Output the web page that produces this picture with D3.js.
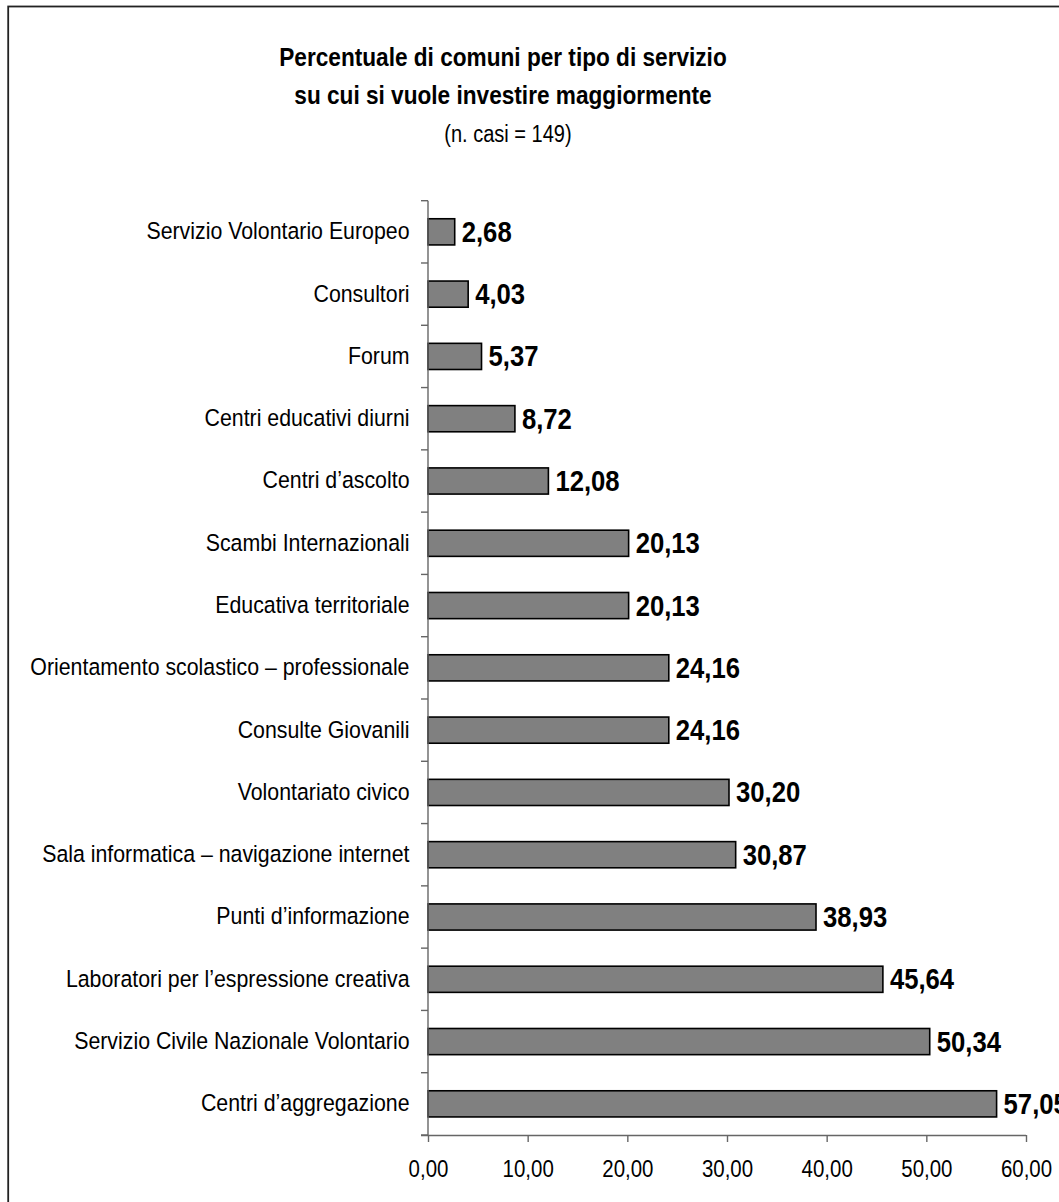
<!DOCTYPE html>
<html>
<head>
<meta charset="utf-8">
<script src="https://cdn.jsdelivr.net/npm/d3@7"></script>
<style>
  html, body { margin: 0; padding: 0; background: #fff; overflow: hidden; }
  svg { display: block; }
  text { font-family: "Liberation Sans", Arial, sans-serif; fill: #000; }
</style>
</head>
<body>
<svg id="chart" width="1059" height="1202"></svg>
<script>
// Servizi su cui i comuni vogliono investire (percentuali)
const categories = [
  "Servizio Volontario Europeo",
  "Consultori",
  "Forum",
  "Centri educativi diurni",
  "Centri d\u2019ascolto",
  "Scambi Internazionali",
  "Educativa territoriale",
  "Orientamento scolastico \u2013 professionale",
  "Consulte Giovanili",
  "Volontariato civico",
  "Sala informatica \u2013 navigazione internet",
  "Punti d\u2019informazione",
  "Laboratori per l\u2019espressione creativa",
  "Servizio Civile Nazionale Volontario",
  "Centri d\u2019aggregazione"
];
const values = [2.68, 4.03, 5.37, 8.72, 12.08, 20.13, 20.13, 24.16, 24.16, 30.20, 30.87, 38.93, 45.64, 50.34, 57.05];
const xTicks = [0, 10, 20, 30, 40, 50, 60];
const titleLines = [
  "Percentuale di comuni per tipo di servizio",
  "su cui si vuole investire maggiormente"
];
const subtitle = "(n. casi = 149)";

const it = d3.formatLocale({ decimal: ",", thousands: ".", grouping: [3], currency: ["", " \u20ac"] });
const fmt = it.format(".2f");

const svg = d3.select("#chart");
const squeeze = 0.87; // narrow text rendering

// outer frame
svg.append("rect")
  .attr("x", 8.2).attr("y", 6.5)
  .attr("width", 1200).attr("height", 1300)
  .attr("fill", "none").attr("stroke", "#222").attr("stroke-width", 1.8);

// title
const titleX = 503;
svg.append("text").attr("x", titleX).attr("y", 66)
  .attr("text-anchor", "middle").attr("font-weight", "bold").attr("font-size", 26)
  .attr("class", "sq").text(titleLines[0]);
svg.append("text").attr("x", titleX).attr("y", 104)
  .attr("text-anchor", "middle").attr("font-weight", "bold").attr("font-size", 26)
  .attr("class", "sq").text(titleLines[1]);
svg.append("text").attr("x", titleX + 5).attr("y", 142)
  .attr("text-anchor", "middle").attr("font-size", 23)
  .attr("class", "sq").text(subtitle);

// scales
const x = d3.scaleLinear().domain([0, 60]).range([428, 1026]);
const y = d3.scaleBand().domain(categories).range([200.7, 1135])
  .paddingInner(0.58).paddingOuter(0.29);
const step = y.step();
const axisColor = "#666";

// bars
svg.append("g").selectAll("rect")
  .data(categories)
  .join("rect")
  .attr("x", x(0))
  .attr("y", d => y(d))
  .attr("width", (d, i) => x(values[i]) - x(0))
  .attr("height", y.bandwidth())
  .attr("fill", "#808080")
  .attr("stroke", "#000")
  .attr("stroke-width", 1.6);

// category axis: line plus ticks at the band boundaries
const yAxisG = svg.append("g");
yAxisG.append("line")
  .attr("x1", x(0)).attr("x2", x(0))
  .attr("y1", y.range()[0]).attr("y2", y.range()[1])
  .attr("stroke", axisColor).attr("stroke-width", 1.4);
yAxisG.selectAll("line.tick")
  .data(d3.range(categories.length + 1))
  .join("line")
  .attr("class", "tick")
  .attr("x1", x(0) - 7).attr("x2", x(0))
  .attr("y1", i => y.range()[0] + i * step)
  .attr("y2", i => y.range()[0] + i * step)
  .attr("stroke", axisColor).attr("stroke-width", 1.4);

// category labels
svg.append("g").selectAll("text")
  .data(categories)
  .join("text")
  .attr("class", "sq")
  .attr("x", 409.5)
  .attr("y", d => y(d) + y.bandwidth() / 2 + 7.5)
  .attr("text-anchor", "end")
  .attr("font-size", 24.5)
  .text(d => d);

// value labels
svg.append("g").selectAll("text")
  .data(categories)
  .join("text")
  .attr("class", "sq")
  .attr("x", (d, i) => x(values[i]) + 7)
  .attr("y", d => y(d) + y.bandwidth() / 2 + 10)
  .attr("font-size", 29.5)
  .attr("font-weight", "bold")
  .text((d, i) => fmt(values[i]));

// value axis
const xAxis = d3.axisBottom(x).tickValues(xTicks).tickFormat(fmt).tickSize(7).tickSizeOuter(0);
const xAxisG = svg.append("g").attr("transform", `translate(0,${y.range()[1]})`).call(xAxis);
xAxisG.select(".domain").attr("stroke", axisColor).attr("stroke-width", 1.4)
  .attr("d", `M${x(0) - 7},0.5H${x(60)}`);
xAxisG.selectAll(".tick line").attr("stroke", axisColor).attr("stroke-width", 1.4);
xAxisG.selectAll(".tick text")
  .attr("class", "sq")
  .attr("font-size", 23.5)
  .attr("font-family", null)
  .attr("fill", "#000")
  .attr("y", 0).attr("dy", null)
  .attr("transform", "translate(0,41.7)");

// narrow rendering of all texts
svg.selectAll("text.sq").each(function () {
  const len = this.getComputedTextLength();
  d3.select(this).attr("textLength", len * squeeze).attr("lengthAdjust", "spacingAndGlyphs");
});
</script>
</body>
</html>
